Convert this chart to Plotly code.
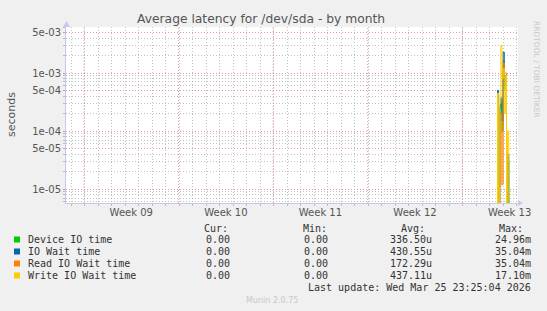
import plotly.graph_objects as go

# ---------------- data (time in days from left edge of graph) ----------------
DAYS = [31.600, 31.683, 31.767, 31.850, 31.933, 32.017, 32.100, 32.183, 32.267,
        32.350, 32.433, 32.517, 32.600, 32.683, 32.767, 32.850, 32.933, 33.017,
        33.100, 33.183, 33.267, 33.350, 33.433]
DEVICE_IO = [0, 0, 0, 0, 4.0e-4, 0, 2.0e-4, 3.4e-4, 1.0e-4, 1.6e-3, 5.0e-4, 8.0e-4,
             0, 3.0e-5, 0, 0, 0, 0, 0, 0, 0, 0, 0]
IO_WAIT = [0, 0, 0, 0, 5.0e-4, 0, 2.5e-4, 3.7e-4, 1.5e-4, 2.3e-3, 6.0e-4, 9.0e-4,
           0, 4.0e-5, 0, 0, 0, 0, 0, 0, 0, 0, 0]
READ_WAIT = [0, 0, 0, 0, 0, 0, 1.1e-5, 2.0e-4, 1.2e-5, 1.5e-3, 1.0e-3, 1.0e-3,
             0, 0, 0, 0, 0, 0, 0, 0, 0, 0, 0]
WRITE_WAIT = [0, 0, 0, 0, 4.5e-4, 0, 3.0e-4, 3.0e-3, 8.0e-4, 1.2e-3, 2.0e-4, 9.0e-4,
              0, 1.0e-4, 0, 0, 0, 0, 0, 0, 0, 0, 0]

SERIES_NAMES = ["Device IO time", "IO Wait time", "Read IO Wait time", "Write IO Wait time"]
SERIES_COLORS = ["#00CC00", "#0066B3", "#FF8000", "#FFCC00"]
CUR = ["0.00", "0.00", "0.00", "0.00"]
MIN = ["0.00", "0.00", "0.00", "0.00"]
AVG = ["336.50u", "430.55u", "172.29u", "437.11u"]
MAX = ["24.96m", "35.04m", "35.04m", "17.10m"]

WEEK_LABELS = ["Week 09", "Week 10", "Week 11", "Week 12", "Week 13"]
WEEK_LABEL_POS = [4.83, 11.83, 18.83, 25.83, 32.83]
WEEK_START_POS = [1.33, 8.33, 15.33, 22.33, 29.33]
DAY_GRID = [0.37 + i for i in range(34)]

Y_MAJOR = [1e-5, 5e-5, 1e-4, 5e-4, 1e-3, 5e-3]
Y_MINOR = [m * 10.0 ** e for e in range(-6, -2) for m in (2, 3, 4, 6, 7, 8, 9)]

X_RANGE = [0, 33.45]
Y_RANGE = [-5.241, -2.207]
FLOOR = 1e-8  # zero values drawn below the visible range (log axis)

# ---------------- layout geometry ----------------
W, H = 547, 311
L, R, T, B = 66, 518, 27, 203


def px(x):
    return (x - L) / (R - L)


def py(y):
    return (B - y) / (B - T)


fig = go.Figure()
for name, color, vals in zip(SERIES_NAMES, SERIES_COLORS,
                             [DEVICE_IO, IO_WAIT, READ_WAIT, WRITE_WAIT]):
    fig.add_trace(go.Scatter(
        x=DAYS, y=[max(v, FLOOR) for v in vals], name=name, mode="lines",
        line=dict(color=color, width=1, shape="hv"), showlegend=False))

GRID_GRAY = "rgba(175,175,175,0.75)"
GRID_RED = "rgba(225,130,130,0.8)"
DASH = "1px,2px"
AXIS_COL = "#C4C8EE"
TXT = "#555555"

fig.update_layout(
    width=W, height=H,
    margin=dict(l=L, r=W - R, t=T, b=H - B, pad=0),
    paper_bgcolor="#F0F0F0", plot_bgcolor="#FFFFFF",
    font=dict(family="DejaVu Sans", size=10, color=TXT),
    xaxis=dict(range=X_RANGE, tickmode="array", tickvals=WEEK_LABEL_POS,
               ticktext=WEEK_LABELS, showgrid=False, zeroline=False,
               ticks="", showline=True, linecolor=AXIS_COL, linewidth=1,
               tickfont=dict(size=10, color=TXT),
               minor=dict(tickmode="array", tickvals=DAY_GRID, showgrid=True,
                          gridcolor=GRID_GRAY, griddash=DASH, gridwidth=1,
                          ticks="outside", ticklen=2, tickcolor="#BBBBBB")),
    yaxis=dict(type="log", range=Y_RANGE, tickmode="array", tickvals=Y_MAJOR,
               ticktext=[f"{v:.0e}" for v in Y_MAJOR], showgrid=True,
               gridcolor=GRID_RED, griddash=DASH, gridwidth=1, zeroline=False,
               ticks="outside", ticklen=2, tickcolor="#E09090",
               showline=True, linecolor=AXIS_COL, linewidth=1,
               tickfont=dict(size=10, color=TXT),
               minor=dict(tickmode="array", tickvals=Y_MINOR, showgrid=True,
                          gridcolor=GRID_GRAY, griddash=DASH, gridwidth=1,
                          ticks="outside", ticklen=2, tickcolor="#BBBBBB")),
)

shapes = []
for xv in WEEK_START_POS:
    shapes.append(dict(type="line", xref="x", yref="paper", x0=xv, x1=xv, y0=0, y1=1,
                       line=dict(color=GRID_RED, width=1, dash=DASH), layer="below"))
# axis arrows
shapes.append(dict(type="path", xref="paper", yref="paper",
                   path=f"M {px(518)},{py(200)} L {px(523)},{py(203)} L {px(518)},{py(206)} Z",
                   fillcolor=AXIS_COL, line=dict(width=0)))
shapes.append(dict(type="path", xref="paper", yref="paper",
                   path=f"M {px(63)},{py(27)} L {px(66.5)},{py(21)} L {px(70)},{py(27)} Z",
                   fillcolor=AXIS_COL, line=dict(width=0)))
shapes.append(dict(type="line", xref="paper", yref="paper", x0=px(518), x1=px(521),
                   y0=0, y1=0, line=dict(color=AXIS_COL, width=1)))

ann = []
ann.append(dict(text="Average latency for /dev/sda - by month", x=px(261), y=py(19),
                xref="paper", yref="paper", showarrow=False, xanchor="center",
                yanchor="middle", font=dict(size=12.3, color=TXT)))
ann.append(dict(text="seconds", x=px(11), y=py(115), xref="paper", yref="paper",
                showarrow=False, textangle=-90, xanchor="center", yanchor="middle",
                font=dict(size=11, color=TXT)))
ann.append(dict(text="RRDTOOL / TOBI OETIKER", x=px(537), y=py(69), xref="paper",
                yref="paper", showarrow=False, textangle=90, xanchor="center",
                yanchor="middle", font=dict(size=7.5, color="#C8C8C8")))

MONO = dict(family="DejaVu Sans Mono", size=10, color="#333333")
for hdr, xl in zip(["Cur:", "Min:", "Avg:", "Max:"], [202, 301, 399, 497]):
    ann.append(dict(text=hdr, x=px(xl), y=py(228), xref="paper", yref="paper",
                    showarrow=False, xanchor="left", yanchor="middle", font=MONO))
ROW_Y = [239.5, 251.5, 263.5, 275.5]
for i, name in enumerate(SERIES_NAMES):
    yv = ROW_Y[i]
    shapes.append(dict(type="rect", xref="paper", yref="paper",
                       x0=px(14), x1=px(20), y0=py(yv - 3), y1=py(yv + 3),
                       fillcolor=SERIES_COLORS[i], line=dict(width=0)))
    ann.append(dict(text=name, x=px(26), y=py(yv), xref="paper", yref="paper",
                    showarrow=False, xanchor="left", yanchor="middle", font=MONO))
    for col, xr in zip([CUR, MIN, AVG, MAX], [232, 330, 434, 533]):
        ann.append(dict(text=col[i], x=px(xr), y=py(yv), xref="paper", yref="paper",
                        showarrow=False, xanchor="right", yanchor="middle", font=MONO))
ann.append(dict(text="Last update: Wed Mar 25 23:25:04 2026", x=px(533), y=py(287),
                xref="paper", yref="paper", showarrow=False, xanchor="right",
                yanchor="middle", font=MONO))
ann.append(dict(text="Munin 2.0.75", x=px(272), y=py(300), xref="paper", yref="paper",
                showarrow=False, xanchor="center", yanchor="middle",
                font=dict(family="DejaVu Sans", size=8, color="#C8C8C8")))

fig.update_layout(shapes=shapes, annotations=ann)
fig.write_html("out.html")
